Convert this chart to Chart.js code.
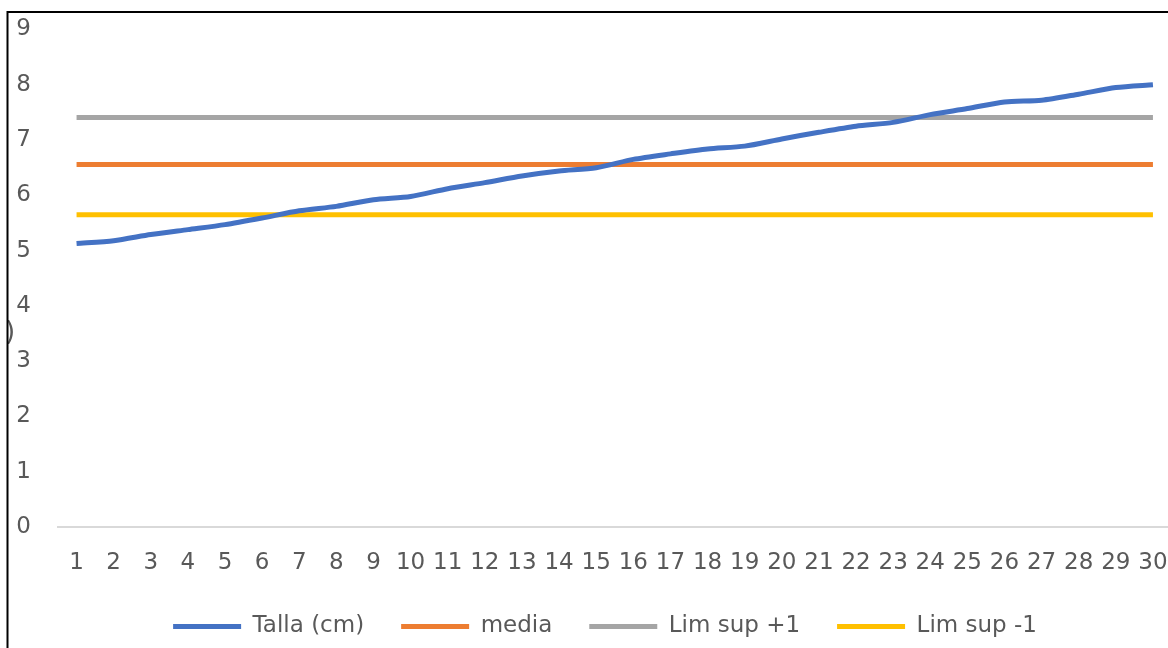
<!DOCTYPE html>
<html>
<head>
<meta charset="utf-8">
<script src="https://cdn.jsdelivr.net/npm/chart.js@4/dist/chart.umd.min.js"></script>
<style>
  html, body { margin: 0; padding: 0; background: #ffffff; overflow: hidden; }
  #wrap { position: absolute; left: 0; top: 0; width: 1176px; height: 648px; }
</style>
</head>
<body>
<div id="wrap"><canvas id="c" width="1176" height="648"></canvas></div>
<script>
// Sample index (1..30)
const categories = ['1','2','3','4','5','6','7','8','9','10','11','12','13','14','15',
                    '16','17','18','19','20','21','22','23','24','25','26','27','28','29','30'];

// Measured size per sample
const talla = [5.13, 5.18, 5.29, 5.38, 5.47, 5.59, 5.72, 5.80, 5.92, 5.98,
               6.12, 6.23, 6.35, 6.44, 6.50, 6.65, 6.75, 6.84, 6.89, 7.02,
               7.14, 7.25, 7.32, 7.46, 7.57, 7.69, 7.72, 7.83, 7.95, 8.00];

// Mean and the +1 / -1 limits, one value per sample
const media = [6.56, 6.56, 6.56, 6.56, 6.56, 6.56, 6.56, 6.56, 6.56, 6.56,
               6.56, 6.56, 6.56, 6.56, 6.56, 6.56, 6.56, 6.56, 6.56, 6.56,
               6.56, 6.56, 6.56, 6.56, 6.56, 6.56, 6.56, 6.56, 6.56, 6.56];
const limSupMas1 = [7.41, 7.41, 7.41, 7.41, 7.41, 7.41, 7.41, 7.41, 7.41, 7.41,
                    7.41, 7.41, 7.41, 7.41, 7.41, 7.41, 7.41, 7.41, 7.41, 7.41,
                    7.41, 7.41, 7.41, 7.41, 7.41, 7.41, 7.41, 7.41, 7.41, 7.41];
const limSupMenos1 = [5.65, 5.65, 5.65, 5.65, 5.65, 5.65, 5.65, 5.65, 5.65, 5.65,
                      5.65, 5.65, 5.65, 5.65, 5.65, 5.65, 5.65, 5.65, 5.65, 5.65,
                      5.65, 5.65, 5.65, 5.65, 5.65, 5.65, 5.65, 5.65, 5.65, 5.65];

const seriesNames = ['Talla (cm)', 'media', 'Lim sup +1', 'Lim sup -1'];
const seriesColors = ['#4472C4', '#ED7D31', '#A5A5A5', '#FFC000'];

const yTicks = [0, 1, 2, 3, 4, 5, 6, 7, 8, 9];

const textColor = '#595959';
const fontFamily = '"DejaVu Sans", sans-serif';

function lineSet(i, values) {
  return {
    label: seriesNames[i],
    data: values,
    borderColor: seriesColors[i],
    backgroundColor: seriesColors[i],
    borderWidth: 5,
    pointRadius: 0,
    pointHoverRadius: 0,
    tension: 0.25,
    fill: false,
    borderCapStyle: 'butt'
  };
}

// White page, the frame edges and the clipped axis-title bracket
const framePlugin = {
  id: 'frame',
  beforeDraw(chart) {
    const ctx = chart.ctx;
    ctx.save();
    ctx.fillStyle = '#ffffff';
    ctx.fillRect(0, 0, chart.width, chart.height);
    ctx.fillStyle = textColor;
    ctx.font = '26px ' + fontFamily;
    ctx.textAlign = 'left';
    ctx.textBaseline = 'middle';
    ctx.fillText(')', 5, 333);
    ctx.fillStyle = '#ffffff';
    ctx.fillRect(0, 0, 7, chart.height);
    ctx.strokeStyle = '#000000';
    ctx.lineWidth = 2;
    ctx.beginPath();
    ctx.moveTo(7.5, chart.height);
    ctx.lineTo(7.5, 12);
    ctx.lineTo(chart.width, 12);
    ctx.stroke();
    ctx.restore();
  }
};

// Centre the legend row under the plot
const legendShift = {
  id: 'legendShift',
  afterLayout(chart) {
    const lg = chart.legend;
    if (!lg) return;
    const d = 605 - (lg.left + lg.right) / 2;
    lg.left += d;
    lg.right += d;
  }
};

new Chart(document.getElementById('c'), {
  type: 'line',
  data: {
    labels: categories,
    datasets: [
      lineSet(0, talla),
      lineSet(1, media),
      lineSet(2, limSupMas1),
      lineSet(3, limSupMenos1)
    ]
  },
  options: {
    responsive: false,
    animation: false,
    events: [],
    layout: { padding: { top: 29.5, left: 0, right: 4.5, bottom: 0 } },
    plugins: {
      tooltip: { enabled: false },
      legend: {
        position: 'bottom',
        labels: {
          color: textColor,
          font: { family: fontFamily, size: 23 },
          boxWidth: 68,
          boxHeight: 5,
          padding: 37,
          generateLabels(chart) {
            return chart.data.datasets.map((ds, i) => ({
              text: ds.label,
              fillStyle: ds.borderColor,
              strokeStyle: ds.borderColor,
              lineWidth: 0,
              fontColor: textColor,
              hidden: false,
              datasetIndex: i
            }));
          }
        }
      }
    },
    scales: {
      x: {
        offset: true,
        afterFit(axis) {
          axis.height = 51;
          axis.paddingLeft = 0;
          axis.paddingRight = 0;
        },
        grid: { display: false, drawTicks: false },
        border: { display: true, color: '#D9D9D9', width: 2 },
        ticks: {
          color: textColor,
          font: { family: fontFamily, size: 23 },
          autoSkip: false,
          maxRotation: 0,
          padding: 22
        }
      },
      y: {
        min: 0,
        max: 9,
        afterBuildTicks(axis) { axis.ticks = yTicks.map(v => ({ value: v })); },
        afterFit(axis) {
          axis.width = 58;
          axis.paddingTop = 0;
          axis.paddingBottom = 0;
        },
        grid: { display: false, drawTicks: false },
        border: { display: false },
        ticks: {
          color: textColor,
          font: { family: fontFamily, size: 23 },
          padding: 27
        }
      }
    }
  },
  plugins: [framePlugin, legendShift]
});
</script>
</body>
</html>
